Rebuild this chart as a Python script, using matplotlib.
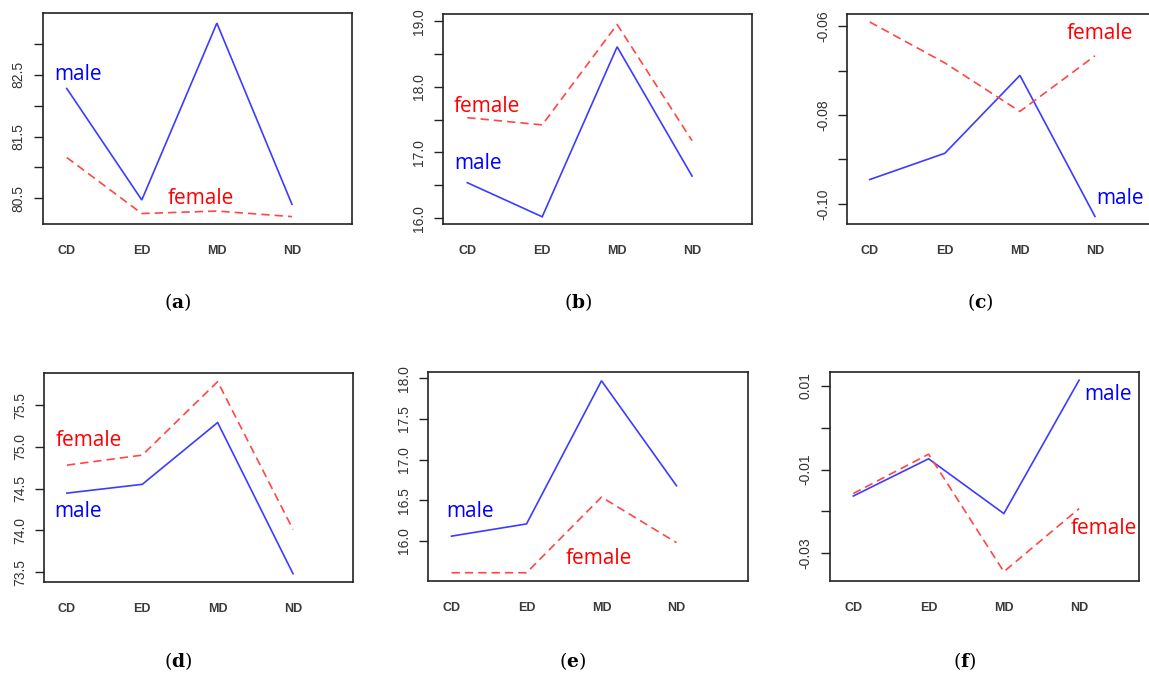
import numpy as np
import matplotlib
matplotlib.use('Agg')
import matplotlib.pyplot as plt

plt.rcParams['mathtext.fontset'] = 'dejavuserif'

groups = ['CD', 'ED', 'MD', 'ND']

male_a = [82.28, 80.47, 83.34, 80.40]
female_a = [81.16, 80.25, 80.29, 80.20]
male_b = [16.54, 16.02, 18.61, 16.64]
female_b = [17.53, 17.42, 18.95, 17.18]
male_c = [-0.0945, -0.0886, -0.0711, -0.1028]
female_c = [-0.0591, -0.0683, -0.0792, -0.0667]
male_d = [74.445, 74.55, 75.29, 73.48]
female_d = [74.78, 74.90, 75.78, 74.01]
male_e = [16.06, 16.21, 17.97, 16.68]
female_e = [15.61, 15.61, 16.54, 15.98]
male_f = [-0.0163, -0.0074, -0.0205, 0.0114]
female_f = [-0.0157, -0.0063, -0.0344, -0.0193]

# y ticks and which ones get a label (R drops the crowded ones)
ticks_a = [80.5, 81.0, 81.5, 82.0, 82.5, 83.0]
labels_a = ['80.5', '', '81.5', '', '82.5', '']
ticks_b = [16.0, 16.5, 17.0, 17.5, 18.0, 18.5, 19.0]
labels_b = ['16.0', '', '17.0', '', '18.0', '', '19.0']
ticks_c = [-0.10, -0.09, -0.08, -0.07, -0.06]
labels_c = ['-0.10', '', '-0.08', '', '-0.06']
ticks_d = [73.5, 74.0, 74.5, 75.0, 75.5]
labels_d = ['73.5', '74.0', '74.5', '75.0', '75.5']
ticks_e = [16.0, 16.5, 17.0, 17.5, 18.0]
labels_e = ['16.0', '16.5', '17.0', '17.5', '18.0']
ticks_f = [-0.03, -0.02, -0.01, 0.00, 0.01]
labels_f = ['-0.03', '', '-0.01', '', '0.01']

W, H = 1149, 677
BLUE = '#3c3cff'
RED = '#ff4646'


def px_box(left, top, right, bottom):
    return [left / W, 1 - bottom / H, (right - left) / W, (bottom - top) / H]


def px_text(fig, x, y, s, **kw):
    fig.text(x / W, 1 - y / H, s, **kw)


fig = plt.figure(figsize=(W / 100, H / 100), dpi=100)

panels = [
    # letter, male, female, box(px), ylim, ticks, labels, xlim
    ('a', male_a, female_a, (42.7, 13.3, 352, 224), (80.08, 83.50), ticks_a, labels_a, (0.68, 4.8)),
    ('b', male_b, female_b, (443.3, 14, 752, 224), (15.91, 19.11), ticks_b, labels_b, (0.68, 4.8)),
    ('c', male_c, female_c, (847.3, 14, 1155, 224), (-0.1045, -0.0573), ticks_c, labels_c, (0.70, 4.8)),
    ('d', male_d, female_d, (44.3, 372.7, 353.3, 581.7), (73.384, 75.887), ticks_d, labels_d, (0.70, 4.8)),
    ('e', male_e, female_e, (428.3, 372.3, 747.7, 580.7), (15.512, 18.074), ticks_e, labels_e, (0.69, 4.95)),
    ('f', male_f, female_f, (830, 372.3, 1139.3, 580.7), (-0.03655, 0.01328), ticks_f, labels_f, (0.69, 4.8)),
]

x = np.arange(1, len(groups) + 1)
for letter, male, female, box, ylim, ticks, labels, xlim in panels:
    ax = fig.add_axes(px_box(*box))
    ax.plot(x, male, color=BLUE, lw=1.2, solid_joinstyle='miter')
    ax.plot(x, female, color=RED, lw=1.2, dashes=(5, 3))
    ax.set_xlim(*xlim)
    ax.set_ylim(*ylim)
    ax.set_xticks(x)
    ax.set_xticklabels(groups, fontsize=9, fontweight='bold',
                       family='Liberation Sans', color='#3a3a3a')
    ax.tick_params(axis='x', length=0, pad=15)
    ax.set_yticks(ticks)
    ax.set_yticklabels(labels, rotation=90, va='center', fontsize=10,
                       family='Liberation Sans', color='#333333')
    ax.tick_params(axis='y', length=6.5, width=1, pad=6, color='#222222')
    for sp in ax.spines.values():
        sp.set_linewidth(1.2)
        sp.set_color('#222222')

# series names written inside the panels
name_style = dict(family='Open Sans', fontsize=15, va='center', ha='left')
px_text(fig, 54.3, 75, 'male', color='blue', **name_style)
px_text(fig, 167.7, 198.3, 'female', color='red', **name_style)
px_text(fig, 453.3, 106.7, 'female', color='red', **name_style)
px_text(fig, 454, 163.3, 'male', color='blue', **name_style)
px_text(fig, 1066.7, 33.3, 'female', color='red', **name_style)
px_text(fig, 1096.7, 198.3, 'male', color='blue', **name_style)
px_text(fig, 56, 440, 'female', color='red', **name_style)
px_text(fig, 54, 511.7, 'male', color='blue', **name_style)
px_text(fig, 446, 511.7, 'male', color='blue', **name_style)
px_text(fig, 565.7, 558.3, 'female', color='red', **name_style)
px_text(fig, 1084.3, 394, 'male', color='blue', **name_style)
px_text(fig, 1070.7, 528.3, 'female', color='red', **name_style)

# sub-figure captions
cap_style = dict(fontsize=13.5, ha='center', va='center', color='black')
for letter, cx, cy in [('a', 178, 302), ('b', 578, 302), ('c', 980, 302),
                       ('d', 178, 661), ('e', 573, 661), ('f', 965, 661)]:
    px_text(fig, cx, cy, r'$(\mathbf{' + letter + '})$', **cap_style)

fig.savefig('out.png', dpi=100)
